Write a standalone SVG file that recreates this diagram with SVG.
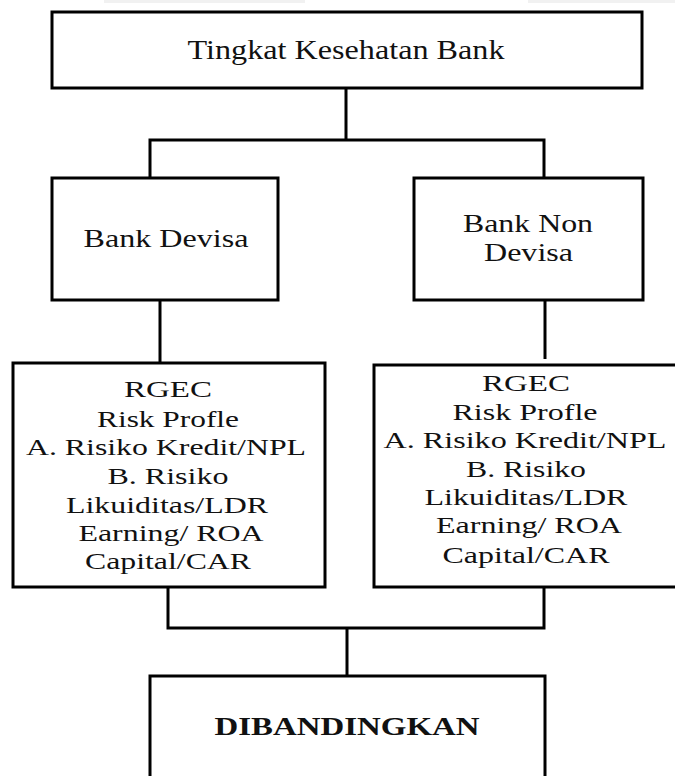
<svg xmlns="http://www.w3.org/2000/svg" width="675" height="776" viewBox="0 0 675 776">
<style>
.box{fill:#fff;stroke:#000;stroke-width:3}
.con{fill:none;stroke:#000;stroke-width:3}
.t{font-family:"Liberation Serif","Times New Roman","DejaVu Serif",serif;fill:#111;text-anchor:middle}
.r{font-size:24px}
</style>
<rect x="0" y="0" width="675" height="776" fill="#fff"/>
<rect x="104" y="0" width="201" height="3" fill="#f1f1f1"/>
<rect x="528" y="0" width="147" height="3" fill="#f1f1f1"/>
<g id="connectors">
<path class="con" d="M346 88V140M150 178V140H544V178"/>
<path class="con" d="M160 300V363"/>
<path class="con" d="M545 296V359"/>
<path class="con" d="M168 587V628H544V587M347 628V676"/>
</g>
<g id="top">
<rect class="box" x="52" y="12" width="590" height="76"/>
<text class="t" x="346" y="59" font-size="27" textLength="317" lengthAdjust="spacingAndGlyphs">Tingkat Kesehatan Bank</text>
</g>
<g id="devisa">
<rect class="box" x="52" y="178" width="226" height="122"/>
<text class="t" x="166" y="247" font-size="26" textLength="165" lengthAdjust="spacingAndGlyphs">Bank Devisa</text>
</g>
<g id="nondevisa">
<rect class="box" x="414" y="178" width="229" height="122"/>
<text class="t" x="528" y="232" font-size="26" textLength="130" lengthAdjust="spacingAndGlyphs">Bank Non</text>
<text class="t" x="528.5" y="261" font-size="26" textLength="89" lengthAdjust="spacingAndGlyphs">Devisa</text>
</g>
<g id="rgec-left">
<rect class="box" x="13" y="363" width="312" height="224"/>
<text class="t r" x="168" y="397" textLength="88" lengthAdjust="spacingAndGlyphs">RGEC</text>
<text class="t r" x="168" y="427" textLength="142" lengthAdjust="spacingAndGlyphs">Risk Profle</text>
<text class="t r" x="166" y="455" textLength="280" lengthAdjust="spacingAndGlyphs">A. Risiko Kredit/NPL</text>
<text class="t r" x="168" y="484" textLength="121" lengthAdjust="spacingAndGlyphs">B. Risiko</text>
<text class="t r" x="167" y="513" textLength="202" lengthAdjust="spacingAndGlyphs">Likuiditas/LDR</text>
<text class="t r" x="171" y="541" textLength="185" lengthAdjust="spacingAndGlyphs">Earning/ ROA</text>
<text class="t r" x="168" y="569" textLength="166" lengthAdjust="spacingAndGlyphs">Capital/CAR</text>
</g>
<g id="rgec-right">
<rect class="box" x="374" y="365" width="310" height="222"/>
<text class="t r" x="526" y="391" textLength="88" lengthAdjust="spacingAndGlyphs">RGEC</text>
<text class="t r" x="525" y="420" textLength="145" lengthAdjust="spacingAndGlyphs">Risk Profle</text>
<text class="t r" x="525" y="448" textLength="283" lengthAdjust="spacingAndGlyphs">A. Risiko Kredit/NPL</text>
<text class="t r" x="526" y="477" textLength="120" lengthAdjust="spacingAndGlyphs">B. Risiko</text>
<text class="t r" x="526" y="505" textLength="203" lengthAdjust="spacingAndGlyphs">Likuiditas/LDR</text>
<text class="t r" x="529" y="533" textLength="186" lengthAdjust="spacingAndGlyphs">Earning/ ROA</text>
<text class="t r" x="526" y="563" textLength="167" lengthAdjust="spacingAndGlyphs">Capital/CAR</text>
</g>
<g id="dibandingkan">
<rect class="box" x="150" y="676" width="395" height="120"/>
<text class="t" x="347" y="735" font-size="25" font-weight="bold" textLength="265" lengthAdjust="spacingAndGlyphs">DIBANDINGKAN</text>
</g>
</svg>
